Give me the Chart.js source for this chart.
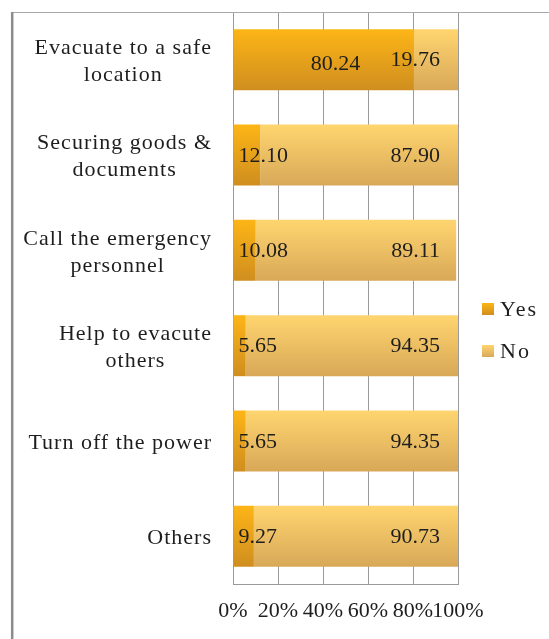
<!DOCTYPE html>
<html>
<head>
<meta charset="utf-8">
<script src="https://cdn.jsdelivr.net/npm/chart.js@4"></script>
<style>
  html, body { margin: 0; padding: 0; background: #fff; }
  #wrap { width: 549px; height: 639px; }
</style>
</head>
<body>
<div id="wrap"><canvas id="actionsChart"></canvas></div>
<script>
// values
const categories = [
  ["Evacuate to a safe", "location"],
  ["Securing goods &", "documents"],
  ["Call the emergency", "personnel"],
  ["Help to evacute", "others"],
  ["Turn off the power"],
  ["Others"],
];
const yesValues = [80.24, 12.10, 10.08, 5.65, 5.65, 9.27];
const noValues = [19.76, 87.90, 89.11, 94.35, 94.35, 90.73];
const xTicks = [0, 20, 40, 60, 80, 100];

const FONT = "'Liberation Serif', 'Times New Roman', serif";
const TEXT = "#1e1e1e";
const YES_TOP = "#fdb516", YES_BOTTOM = "#cf8e1f";
const NO_TOP = "#ffd56f", NO_BOTTOM = "#d8a858";
const BAR_PCT = 0.64;

const barGradient = (ctx, top, bottom) => {
  const chart = ctx.chart;
  const area = chart.chartArea;
  if (!area || ctx.dataIndex === undefined) return top;
  const y = chart.scales.y.getPixelForValue(ctx.dataIndex);
  const half = ((area.bottom - area.top) / categories.length) * BAR_PCT / 2;
  const g = chart.ctx.createLinearGradient(0, y - half, 0, y + half);
  g.addColorStop(0, top);
  g.addColorStop(1, bottom);
  return g;
};

// outer frame, category labels, value labels and legend
const decorations = {
  id: "decorations",
  afterDraw(chart) {
    const ctx = chart.ctx;
    const area = chart.chartArea;
    const yScale = chart.scales.y;
    ctx.save();

    // frame lines
    ctx.strokeStyle = "#a8a8a8";
    ctx.lineWidth = 1;
    ctx.beginPath();
    ctx.moveTo(12, 12.5);
    ctx.lineTo(549, 12.5);
    ctx.stroke();
    ctx.strokeStyle = "#8c8c8c";
    ctx.lineWidth = 2.5;
    ctx.beginPath();
    ctx.moveTo(12.2, 12);
    ctx.lineTo(12.2, 639);
    ctx.stroke();

    // category labels, lines centred in a right-aligned block
    ctx.fillStyle = TEXT;
    ctx.font = "22px " + FONT;
    ctx.letterSpacing = "1px";
    ctx.textBaseline = "middle";
    ctx.textAlign = "center";
    const rightEdge = area.left - 21;
    const lineH = 27;
    categories.forEach((lines, i) => {
      const yc = yScale.getPixelForValue(i) + 2;
      const maxW = Math.max(...lines.map((l) => ctx.measureText(l).width));
      const cx = rightEdge - maxW / 2;
      const y0 = yc - ((lines.length - 1) * lineH) / 2;
      lines.forEach((l, k) => ctx.fillText(l, cx, y0 + k * lineH));
    });

    // value labels
    ctx.letterSpacing = "0px";
    const yesMeta = chart.getDatasetMeta(0);
    const noMeta = chart.getDatasetMeta(1);
    yesMeta.data.forEach((bar, i) => {
      const label = yesValues[i].toFixed(2);
      if (yesValues[i] < 50) {
        ctx.textAlign = "left";
        ctx.fillText(label, bar.base + 5, bar.y + 1);
      } else {
        ctx.textAlign = "center";
        ctx.fillText(label, (bar.base + bar.x) / 2 + 12, bar.y + 5);
      }
    });
    noMeta.data.forEach((bar, i) => {
      ctx.textAlign = "right";
      ctx.fillText(noValues[i].toFixed(2), area.right - 18, bar.y + 1);
    });

    // legend
    const mid = (area.top + area.bottom) / 2;
    const items = [
      { text: "Yes", top: YES_TOP, bottom: YES_BOTTOM, y: mid + 11 },
      { text: "No", top: NO_TOP, bottom: NO_BOTTOM, y: mid + 53 },
    ];
    ctx.textAlign = "left";
    ctx.letterSpacing = "2px";
    items.forEach((it) => {
      const g = ctx.createLinearGradient(0, it.y - 6, 0, it.y + 6);
      g.addColorStop(0, it.top);
      g.addColorStop(1, it.bottom);
      ctx.fillStyle = g;
      ctx.fillRect(482, it.y - 6, 12, 12);
      ctx.fillStyle = TEXT;
      ctx.fillText(it.text, 500, it.y + 1);
    });
    ctx.restore();
  },
};

new Chart("actionsChart", {
  type: "bar",
  data: {
    labels: categories,
    datasets: [
      {
        label: "Yes",
        data: yesValues,
        backgroundColor: (c) => barGradient(c, YES_TOP, YES_BOTTOM),
        borderWidth: 0,
        categoryPercentage: BAR_PCT,
        barPercentage: 1,
      },
      {
        label: "No",
        data: noValues,
        backgroundColor: (c) => barGradient(c, NO_TOP, NO_BOTTOM),
        borderWidth: 0,
        categoryPercentage: BAR_PCT,
        barPercentage: 1,
      },
    ],
  },
  options: {
    indexAxis: "y",
    responsive: true,
    maintainAspectRatio: false,
    animation: false,
    layout: { padding: { top: 12, right: 91, bottom: 0, left: 0 } },
    scales: {
      x: {
        stacked: true,
        min: 0,
        max: 100,
        afterBuildTicks: (scale) => {
          scale.ticks = xTicks.map((v) => ({ value: v }));
        },
        afterFit: (scale) => {
          scale.height = 55;
        },
        grid: { color: "#9a9a9a", lineWidth: 1, drawTicks: false },
        border: { display: true, color: "#9a9a9a" },
        ticks: {
          autoSkip: false,
          maxRotation: 0,
          padding: 14,
          color: TEXT,
          font: { family: FONT, size: 22 },
          callback: (v) => v + "%",
        },
      },
      y: {
        stacked: true,
        afterFit: (scale) => {
          scale.width = 233;
        },
        grid: { display: false },
        border: { display: false },
        ticks: { display: false },
      },
    },
    plugins: {
      legend: { display: false },
      tooltip: { enabled: false },
    },
  },
  plugins: [decorations],
});
</script>
</body>
</html>
